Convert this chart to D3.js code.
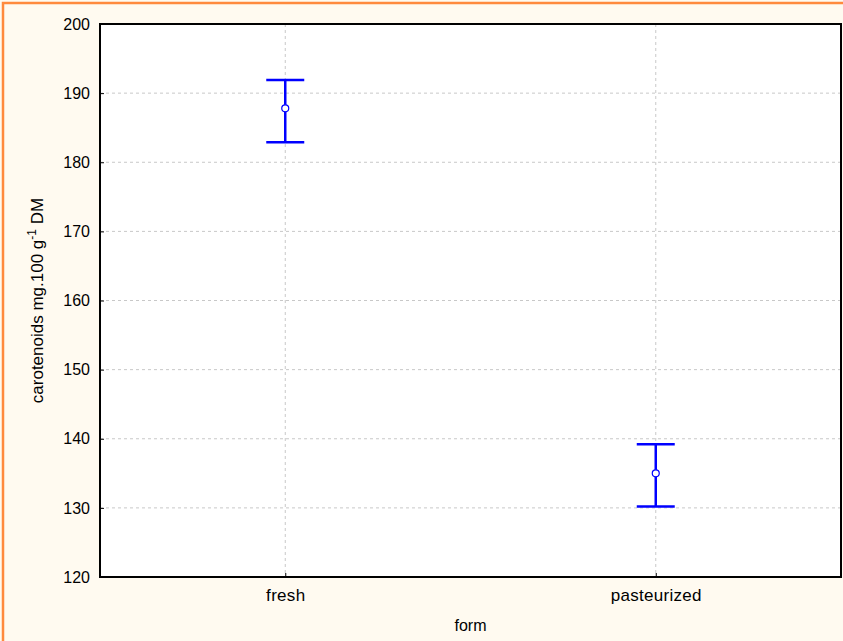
<!DOCTYPE html>
<html>
<head>
<meta charset="utf-8">
<script src="https://cdn.jsdelivr.net/npm/d3@7"></script>
<style>
  body { margin: 0; background: #fffaf0; }
  svg { display: block; font-family: "Liberation Sans", Arial, sans-serif; }
</style>
</head>
<body>
<div id="chart"></div>
<script>
// Data
const categories = ['fresh', 'pasteurized'];
const means = [187.8, 135.0];
const upper = [191.9, 139.2];
const lower = [182.9, 130.2];
const yTicks = [120, 130, 140, 150, 160, 170, 180, 190, 200];

const width = 843, height = 641;
const margin = { top: 24, right: 2, bottom: 64, left: 100 };
const fontSize = 16;

const svg = d3.select('#chart').append('svg')
  .attr('width', width)
  .attr('height', height);

// Page background and orange frame
svg.append('rect')
  .attr('width', width).attr('height', height)
  .attr('fill', '#fffaf0');
svg.append('path')
  .attr('d', `M3,${height} V3 H${width}`)
  .attr('fill', 'none')
  .attr('stroke', '#ff8a3d')
  .attr('stroke-width', 2.5);

const x = d3.scalePoint()
  .domain(categories)
  .range([margin.left, width - margin.right])
  .padding(0.5);

const y = d3.scaleLinear()
  .domain([120, 200])
  .range([height - margin.bottom, margin.top]);

// Plot area
svg.append('rect')
  .attr('x', margin.left).attr('y', margin.top)
  .attr('width', width - margin.left - margin.right)
  .attr('height', height - margin.top - margin.bottom)
  .attr('fill', '#fff');

// Grid lines
const grid = svg.append('g').attr('class', 'grid');
grid.selectAll('line.h')
  .data(yTicks.slice(1, -1))
  .enter().append('line')
  .attr('x1', margin.left).attr('x2', width - margin.right)
  .attr('y1', d => y(d)).attr('y2', d => y(d))
  .attr('stroke', '#c8c8c8').attr('stroke-dasharray', '3,3');
grid.selectAll('line.v')
  .data(categories)
  .enter().append('line')
  .attr('x1', d => x(d)).attr('x2', d => x(d))
  .attr('y1', margin.top).attr('y2', height - margin.bottom)
  .attr('stroke', '#c8c8c8').attr('stroke-dasharray', '3,3');

// Axes
const yAxis = d3.axisLeft(y).tickValues(yTicks).tickSize(-4).tickPadding(10);
svg.append('g')
  .attr('transform', `translate(${margin.left},0)`)
  .call(yAxis)
  .call(g => g.select('.domain').remove())
  .call(g => g.selectAll('text').attr('font-size', fontSize).attr('fill', '#000'));

const xAxis = d3.axisBottom(x).tickSize(-4).tickPadding(12);
svg.append('g')
  .attr('transform', `translate(0,${height - margin.bottom})`)
  .call(xAxis)
  .call(g => g.select('.domain').remove())
  .call(g => g.selectAll('text').attr('font-size', 17).attr('letter-spacing', 0.3).attr('fill', '#000'));

// Plot frame
svg.append('rect')
  .attr('x', margin.left).attr('y', margin.top)
  .attr('width', width - margin.left - margin.right)
  .attr('height', height - margin.top - margin.bottom)
  .attr('fill', 'none')
  .attr('stroke', '#000')
  .attr('stroke-width', 2);

// Axis titles
svg.append('text')
  .attr('x', x.range()[0] + (x.range()[1] - x.range()[0]) / 2)
  .attr('y', 631)
  .attr('text-anchor', 'middle')
  .attr('font-size', fontSize)
  .text('form');

const yTitle = svg.append('text')
  .attr('transform', `translate(43,${(margin.top + height - margin.bottom) / 2}) rotate(-90)`)
  .attr('text-anchor', 'middle')
  .attr('font-size', 17);
yTitle.append('tspan').text('carotenoids mg.100 g');
yTitle.append('tspan').attr('dy', -7).attr('font-size', 12).text('-1');
yTitle.append('tspan').attr('dy', 7).text(' DM');

// Error bars
const capHalf = 19;
const bars = svg.append('g').attr('class', 'errorbars')
  .selectAll('g')
  .data(categories.map((c, i) => ({ c, m: means[i], hi: upper[i], lo: lower[i] })))
  .enter().append('g');

bars.append('line')
  .attr('x1', d => x(d.c)).attr('x2', d => x(d.c))
  .attr('y1', d => y(d.hi)).attr('y2', d => y(d.lo))
  .attr('stroke', '#0000ff').attr('stroke-width', 2.5);
bars.append('line')
  .attr('x1', d => x(d.c) - capHalf).attr('x2', d => x(d.c) + capHalf)
  .attr('y1', d => y(d.hi)).attr('y2', d => y(d.hi))
  .attr('stroke', '#0000ff').attr('stroke-width', 2.5);
bars.append('line')
  .attr('x1', d => x(d.c) - capHalf).attr('x2', d => x(d.c) + capHalf)
  .attr('y1', d => y(d.lo)).attr('y2', d => y(d.lo))
  .attr('stroke', '#0000ff').attr('stroke-width', 2.5);
bars.append('circle')
  .attr('cx', d => x(d.c)).attr('cy', d => y(d.m))
  .attr('r', 3.5)
  .attr('fill', '#fff')
  .attr('stroke', '#0000ff')
  .attr('stroke-width', 1.2);
</script>
</body>
</html>
